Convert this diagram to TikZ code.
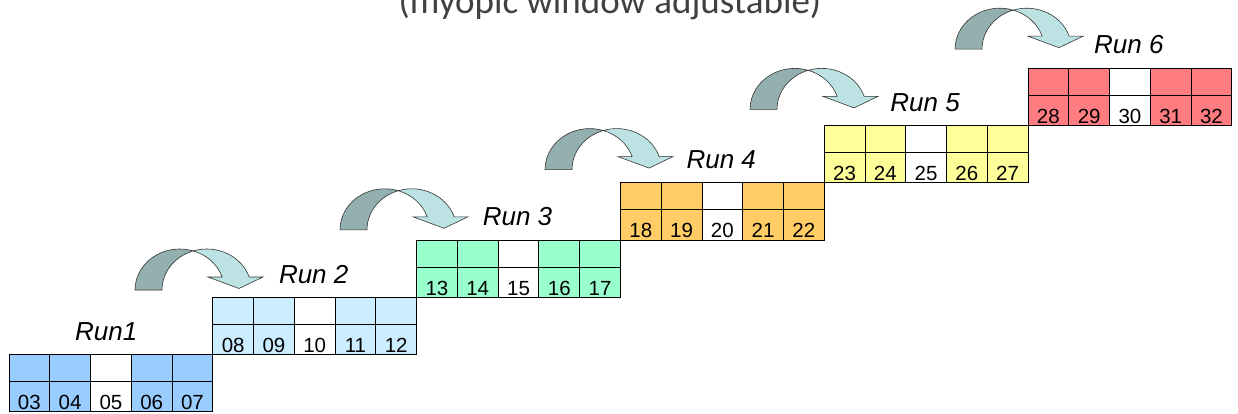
\documentclass[tikz,border=0pt]{standalone}
\usepackage{fontspec}
\setmainfont{Liberation Sans}
\newfontfamily\titlefont{Carlito}
\definecolor{bA}{HTML}{99CCFF}
\definecolor{bB}{HTML}{CCECFF}
\definecolor{bC}{HTML}{99FFCC}
\definecolor{bD}{HTML}{FFCC66}
\definecolor{bE}{HTML}{FFFF99}
\definecolor{bF}{HTML}{FF7C80}
\definecolor{arrdk}{HTML}{94AFAF}
\definecolor{arrlt}{HTML}{BCE2E3}
\definecolor{titlegray}{HTML}{404040}
\tikzset{
  cellline/.style={draw=black,line width=0.8pt},
  numtxt/.style={inner sep=0pt,font=\fontsize{20.5}{22}\selectfont,anchor=base},
  runlabel/.style={inner sep=0pt,font=\fontsize{26}{28}\selectfont\itshape,anchor=base west},
  arrdark/.style={draw=black!80,line width=0.6pt,fill=arrdk},
  arrlight/.style={draw=black!80,line width=0.6pt,fill=arrlt},
  titletxt/.style={inner sep=0pt,font=\titlefont\fontsize{37}{40}\selectfont,text=titlegray,anchor=base}
}
\begin{document}
\begin{tikzpicture}[x=1pt,y=1pt]
\useasboundingbox (0,0) rectangle (1238,-414);
\clip (0,0) rectangle (1238,-414);
\node[titletxt] (title) at (610,-14) {(myopic window adjustable)};
% blocks
\foreach \k/\col/\lab in {0/bA/Run1,1/bB/Run 2,2/bC/Run 3,3/bD/Run 4,4/bE/Run 5,5/bF/Run 6}{
  \pgfmathsetmacro\xo{9+203.8*\k}
  \pgfmathsetmacro\yt{-(354.5-57.3*\k)}
  \pgfmathsetmacro\yb{\yt-57.3}
  \fill[\col] (\xo,\yt) rectangle (\xo+203.8,\yb);
  \fill[white] (\xo+81.52,\yt) rectangle (\xo+122.28,\yb);
  \foreach \i in {0,...,4}{
    \draw[cellline] (\xo+40.76*\i,\yt) rectangle (\xo+40.76*\i+40.76,\yb);
    \pgfmathtruncatemacro\num{3+5*\k+\i}
    \node[numtxt] (n\num) at (\xo+40.76*\i+20.38,\yb+2) {\ifnum\num<10 0\fi\num};
  }
  \draw[cellline] (\xo,\yt-27) -- (\xo+203.8,\yt-27);
  \node[runlabel] (run\k) at (\xo+66,\yt+14) {\lab};
}
% curved arrows
\foreach \k in {0,...,4}{
  \pgfmathsetmacro\F{135+205*\k}
  \pgfmathsetmacro\Y{-(290-60.2*\k)}
  \pgfmathsetmacro\Xs{\F+44.75+44.75*cos(18.49)}
  \draw[arrlight] (\Xs,\Y+13)
     arc[start angle=18.49,end angle=72.44,x radius=44.75,y radius=41]
     arc[start angle=107.56,end angle=18.49,x radius=44.75,y radius=41]
     -- (\F+128,\Y+13) -- (\F+104,\Y+1.5) -- (\F+73,\Y+13) -- cycle;
  \draw[arrdark] (\F,\Y)
     arc[start angle=180,end angle=72.44,x radius=44.75,y radius=41]
     arc[start angle=107.56,end angle=180,x radius=44.75,y radius=41]
     -- cycle;
}
\end{tikzpicture}
\end{document}
